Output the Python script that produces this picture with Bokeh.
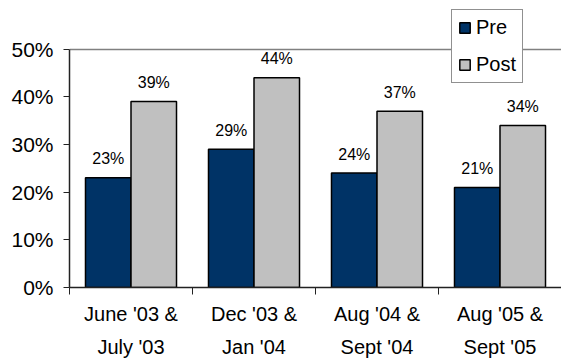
from bokeh.plotting import figure
from bokeh.models import (ColumnDataSource, FixedTicker, PrintfTickFormatter, Legend,
                          LegendItem, Range1d)
from bokeh.core.properties import value
from bokeh.embed import file_html
from bokeh.resources import INLINE

categories = ["June '03 &\nJuly '03", "Dec '03 &\nJan '04", "Aug '04 &\nSept '04", "Aug '05 &\nSept '05"]
pre = [23, 29, 24, 21]
post = [39, 44, 37, 34]
y_ticks = [0, 10, 20, 30, 40, 50]

FONT = "Liberation Sans"
PRE_COLOR = "#003366"
POST_COLOR = "#c0c0c0"
BW = 0.37

n = len(categories)
centers = [i + 0.5 for i in range(n)]
pre_x = [c - BW / 2 for c in centers]
post_x = [c + BW / 2 for c in centers]

src_pre = ColumnDataSource(dict(x=pre_x, top=pre, label=[f"{v}%" for v in pre]))
src_post = ColumnDataSource(dict(x=post_x, top=post, label=[f"{v}%" for v in post]))

# frame spans full height above the x axis; the visible chart box ends at 50%
Y_TOP = 50 * 289 / 240

p = figure(width=561, height=360, output_backend="svg", toolbar_location=None,
           x_range=Range1d(0, n), y_range=Range1d(0, Y_TOP),
           min_border_left=69, min_border_right=0, min_border_top=0, min_border_bottom=71)
p.outline_line_color = None
p.background_fill_color = "white"
p.border_fill_color = "white"

r_pre = p.vbar(x="x", top="top", width=BW, source=src_pre, fill_color=PRE_COLOR,
               line_color="black", line_width=1.5)
r_post = p.vbar(x="x", top="top", width=BW, source=src_post, fill_color=POST_COLOR,
                line_color="black", line_width=1.5)

for src in (src_pre, src_post):
    p.text(x="x", y="top", text="label", source=src, text_font=value(FONT),
           text_font_size="16px", text_align="center", text_baseline="middle",
           y_offset=-19, text_color="black")

# grid: only the 50% line
p.xgrid.visible = False
p.ygrid.ticker = FixedTicker(ticks=[50])
p.ygrid.grid_line_color = "#808080"
p.ygrid.grid_line_width = 1.5

# y axis
p.yaxis.ticker = FixedTicker(ticks=y_ticks)
p.yaxis.bounds = (0, 50)
p.yaxis.formatter = PrintfTickFormatter(format="%d%%")
p.yaxis.major_label_text_font = FONT
p.yaxis.major_label_text_font_size = "21px"
p.yaxis.major_label_text_color = "black"
p.yaxis.major_tick_out = 6
p.yaxis.major_tick_in = 0
p.yaxis.minor_tick_out = 0
p.yaxis.minor_tick_in = 0
p.yaxis.major_label_standoff = 10
p.yaxis.axis_line_color = "#222222"
p.yaxis.major_tick_line_color = "#222222"
p.yaxis.axis_line_width = 1.5

# x axis
p.xaxis.ticker = FixedTicker(ticks=centers, minor_ticks=list(range(n + 1)))
p.xaxis.major_label_overrides = {c: lab for c, lab in zip(centers, categories)}
p.xaxis.major_label_text_font = FONT
p.xaxis.major_label_text_font_size = "20px"
p.xaxis.major_label_text_color = "black"
p.xaxis.major_label_text_line_height = 1.5
p.xaxis.major_tick_out = 0
p.xaxis.major_tick_in = 0
p.xaxis.minor_tick_out = 7
p.xaxis.minor_tick_in = 0
p.xaxis.major_label_standoff = 8
p.xaxis.axis_line_color = "#222222"
p.xaxis.minor_tick_line_color = "#222222"
p.xaxis.axis_line_width = 1.5

legend = Legend(items=[LegendItem(label="Pre", renderers=[r_pre]),
                       LegendItem(label="Post", renderers=[r_post])],
                location=(382, 204))
legend.label_text_font = FONT
legend.label_text_font_size = "20px"
legend.label_text_color = "black"
legend.glyph_width = 13
legend.glyph_height = 13
legend.label_standoff = 5
legend.spacing = 14
legend.padding = 6
legend.margin = 0
legend.border_line_color = "#222222"
legend.border_line_width = 1
legend.background_fill_alpha = 1
p.add_layout(legend, "center")

open("out.html", "w").write(file_html(p, INLINE))
